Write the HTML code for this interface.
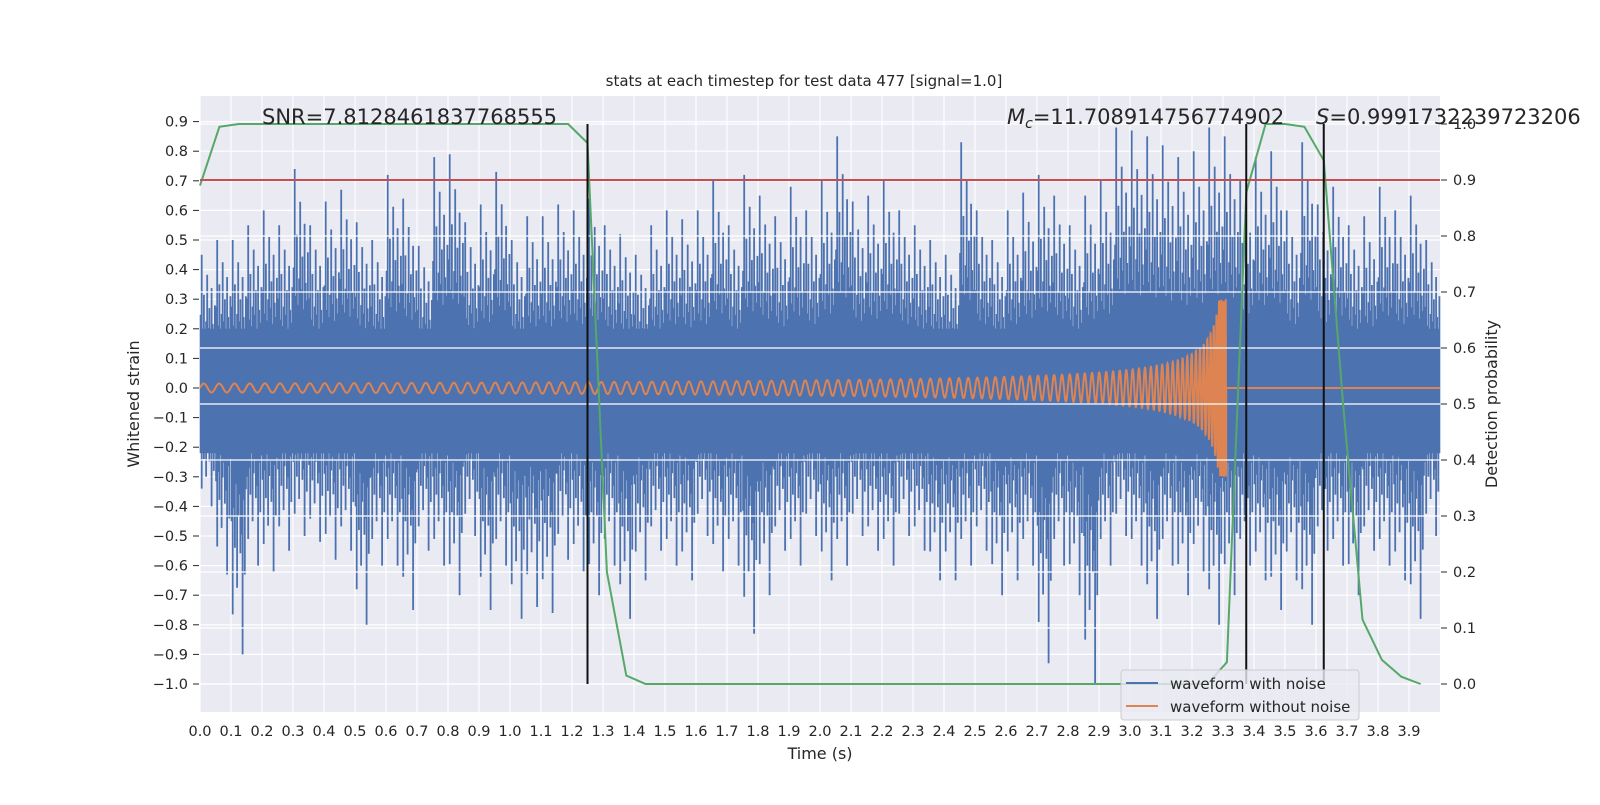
<!DOCTYPE html>
<html><head><meta charset="utf-8"><style>
body{margin:0;background:#fff;}
svg text{font-family:"DejaVu Sans","Liberation Sans",sans-serif;fill:#262626;}
</style></head><body>
<svg id="chart" width="1600" height="800" viewBox="0 0 1600 800">
<rect x="200" y="96" width="1240" height="616" fill="#eaeaf2"/>
<g id="gLeftGrid"></g><g id="gNoise"></g><g id="gChirp"></g><g id="gRightGrid"></g><g id="gOver"></g><g id="gAxes"></g>
<text x="804" y="86" font-size="15" text-anchor="middle">stats at each timestep for test data 477 [signal=1.0]</text>
<text x="262" y="124" font-size="21">SNR=7.8128461837768555</text>
<text x="1007" y="124" font-size="21"><tspan font-style="italic">M</tspan><tspan font-style="italic" font-size="14" dy="4">c</tspan><tspan dy="-4">=11.708914756774902</tspan></text>
<text x="1316" y="124" font-size="21"><tspan font-style="italic">S</tspan>=0.9991732239723206</text>
<text x="820" y="759" font-size="16" text-anchor="middle">Time (s)</text>
<text transform="translate(139,404) rotate(-90)" font-size="16" text-anchor="middle">Whitened strain</text>
<text transform="translate(1497,404) rotate(-90)" font-size="16" text-anchor="middle">Detection probability</text>
<g>
<rect x="1121" y="670" width="238" height="50" rx="3" fill="#eaeaf2" fill-opacity="0.8" stroke="#cccccc"/>
<line x1="1126" y1="683" x2="1158" y2="683" stroke="#4c72b0" stroke-width="2"/>
<text x="1170" y="689" font-size="15">waveform with noise</text>
<line x1="1126" y1="706" x2="1158" y2="706" stroke="#dd8452" stroke-width="2"/>
<text x="1170" y="712" font-size="15">waveform without noise</text>
</g>
</svg>
<script>
const leftTicks=[0.9,0.8,0.7,0.6,0.5,0.4,0.3,0.2,0.1,0.0,-0.1,-0.2,-0.3,-0.4,-0.5,-0.6,-0.7,-0.8,-0.9,-1.0];
const rightTicks=[0.0,0.1,0.2,0.3,0.4,0.5,0.6,0.7,0.8,0.9,1.0];
const xTicks=[0.0,0.1,0.2,0.3,0.4,0.5,0.6,0.7,0.8,0.9,1.0,1.1,1.2,1.3,1.4,1.5,1.6,1.7,1.8,1.9,2.0,2.1,2.2,2.3,2.4,2.5,2.6,2.7,2.8,2.9,3.0,3.1,3.2,3.3,3.4,3.5,3.6,3.7,3.8,3.9];
const noiseHi=[0.45,0.5,0.5,0.55,0.6,0.55,0.74,0.55,0.63,0.67,0.56,0.5,0.72,0.64,0.48,0.78,0.79,0.56,0.62,0.73,0.5,0.58,0.58,0.62,0.6,0.64,0.55,0.52,0.45,0.55,0.6,0.57,0.6,0.7,0.55,0.72,0.65,0.58,0.68,0.6,0.7,0.85,0.63,0.65,0.7,0.6,0.55,0.5,0.45,0.83,0.6,0.5,0.6,0.66,0.72,0.65,0.55,0.65,0.7,0.88,0.87,0.85,0.82,0.78,0.8,0.88,0.85,0.7,0.78,0.8,0.6,0.83,0.62,0.68,0.55,0.58,0.68,0.6,0.65,0.5];
const noiseLo=[-0.4,-0.63,-0.9,-0.6,-0.62,-0.55,-0.5,-0.52,-0.58,-0.55,-0.8,-0.6,-0.6,-0.75,-0.55,-0.6,-0.7,-0.5,-0.75,-0.6,-0.78,-0.74,-0.76,-0.58,-0.62,-0.7,-0.6,-0.78,-0.65,-0.55,-0.6,-0.65,-0.5,-0.62,-0.6,-0.83,-0.7,-0.55,-0.6,-0.5,-0.65,-0.6,-0.5,-0.55,-0.6,-0.5,-0.55,-0.65,-0.65,-0.6,-0.55,-0.7,-0.65,-0.6,-0.93,-0.6,-0.7,-1.0,-0.6,-0.5,-0.6,-0.78,-0.6,-0.7,-0.62,-0.8,-0.7,-0.6,-0.65,-0.75,-0.65,-0.8,-0.55,-0.6,-0.7,-0.55,-0.6,-0.65,-0.78,-0.5];
const noiseBin=0.05;
const probT=[];for(let i=0;i<64;i++)probT.push(i*0.0625);
const probV=[0.89,0.995,1.0,1.0,1.0,1.0,1.0,1.0,1.0,1.0,1.0,1.0,1.0,1.0,1.0,1.0,1.0,1.0,1.0,1.0,0.966,0.2,0.015,0.0,0.0,0.0,0.0,0.0,0.0,0.0,0.0,0.0,0.0,0.0,0.0,0.0,0.0,0.0,0.0,0.0,0.0,0.0,0.0,0.0,0.0,0.0,0.0,0.0,0.0,0.0,0.0,0.0,0.0,0.039,0.878,1.0,1.0,0.995,0.935,0.5,0.115,0.043,0.013,0.0];
const threshold=[0.9];
const markerTimes=[1.25,3.375,3.625];
const chirpF0=[20],chirpA0=[0.015],chirpTc=[3.31],chirpAmax=[0.3],chirpAmpPow=[0.6];

const NS='http://www.w3.org/2000/svg';
const X=t=>200+t*310;
const YL=v=>712-(v+1.0946)*296;
const YR=v=>684-v*560;
function mk(tag,attrs,parent){const e=document.createElementNS(NS,tag);for(const k in attrs)e.setAttribute(k,attrs[k]);parent.appendChild(e);return e;}
const gLG=document.getElementById('gLeftGrid'),gN=document.getElementById('gNoise'),gC=document.getElementById('gChirp'),gRG=document.getElementById('gRightGrid'),gO=document.getElementById('gOver'),gA=document.getElementById('gAxes');

leftTicks.forEach(v=>{const y=YL(v);
 const l=mk('line',{x1:200,x2:1440,y1:y,y2:y,stroke:'#fff','stroke-width':1.2},gLG);
 
 const tk=mk('line',{x1:193,x2:199,y1:y,y2:y,stroke:'#262626','stroke-width':1},gA);
 
 const t=mk('text',{x:188,y:y+5,'font-size':14.5,'text-anchor':'end'},gA);t.textContent=(v<0?'\u2212'+(-v).toFixed(1):v.toFixed(1));
 });
xTicks.forEach(v=>{const x=X(v);
 const l=mk('line',{x1:x,x2:x,y1:96,y2:712,stroke:'#fff','stroke-width':1.2},gLG);
 
 const t=mk('text',{x:x,y:736,'font-size':14.5,'text-anchor':'middle'},gA);t.textContent=v.toFixed(1);
 });

// noise
const core=mk('rect',{x:200,y:YL(0.2),width:1240,height:YL(-0.22)-YL(0.2),fill:'#4c72b0'},gN);

const frac=[0.55,1,0.42,0.7,0.38,0.5,0.85,0.45,0.6,0.36,0.75,0.48,0.4,0.62];
let d='';
noiseHi.forEach((h,i)=>{const t0=i*noiseBin;
 for(let k=0;k<frac.length;k++){const t=t0+noiseBin*(k+0.5)/frac.length;const x=X(t).toFixed(1);
  const hv=Math.max(0.2,h*frac[k]), lv=Math.min(-0.22,noiseLo[i]*frac[(k+5)%frac.length]);
  d+=`M${x} ${YL(hv).toFixed(1)}L${x} ${YL(lv).toFixed(1)}`;}});
const np=mk('path',{d:d,stroke:'#4c72b0','stroke-width':1.8,fill:'none'},gN);


// chirp
let cd='';let ph=0;const dt=1/2500;
for(let t=0;t<=4;t+=dt){let v=0;
 if(t<chirpTc[0]){const tau=1-t/chirpTc[0];let f=Math.min(400,chirpF0[0]*Math.pow(tau,-3/8));ph+=2*Math.PI*f*dt;
  const a=Math.min(chirpAmax[0],chirpA0[0]*Math.pow(tau,-chirpAmpPow[0]));v=a*Math.sin(ph);}
 cd+=(cd?'L':'M')+X(t).toFixed(2)+' '+YL(v).toFixed(2);}
const cp=mk('path',{d:cd,stroke:'#dd8452','stroke-width':2,fill:'none'},gC);


rightTicks.forEach(v=>{const y=YR(v);
 const l=mk('line',{x1:200,x2:1440,y1:y,y2:y,stroke:'#fff','stroke-width':1.2},gRG);
 
 const tk=mk('line',{x1:1441,x2:1447,y1:y,y2:y,stroke:'#262626','stroke-width':1},gA);
 
 const t=mk('text',{x:1453,y:y+5,'font-size':14.5},gA);t.textContent=v.toFixed(1);
 });

const gp=mk('polyline',{points:probT.map((t,i)=>X(t).toFixed(1)+','+YR(probV[i]).toFixed(1)).join(' '),stroke:'#55a868','stroke-width':2,fill:'none'},gO);

threshold.forEach(v=>{const l=mk('line',{x1:200,x2:1440,y1:YR(v),y2:YR(v),stroke:'#c44e52','stroke-width':2},gO);
 });
markerTimes.forEach(t=>{const l=mk('line',{x1:X(t),x2:X(t),y1:YR(1),y2:YR(0),stroke:'#111','stroke-width':2},gO);
 });
</script>
</body></html>
